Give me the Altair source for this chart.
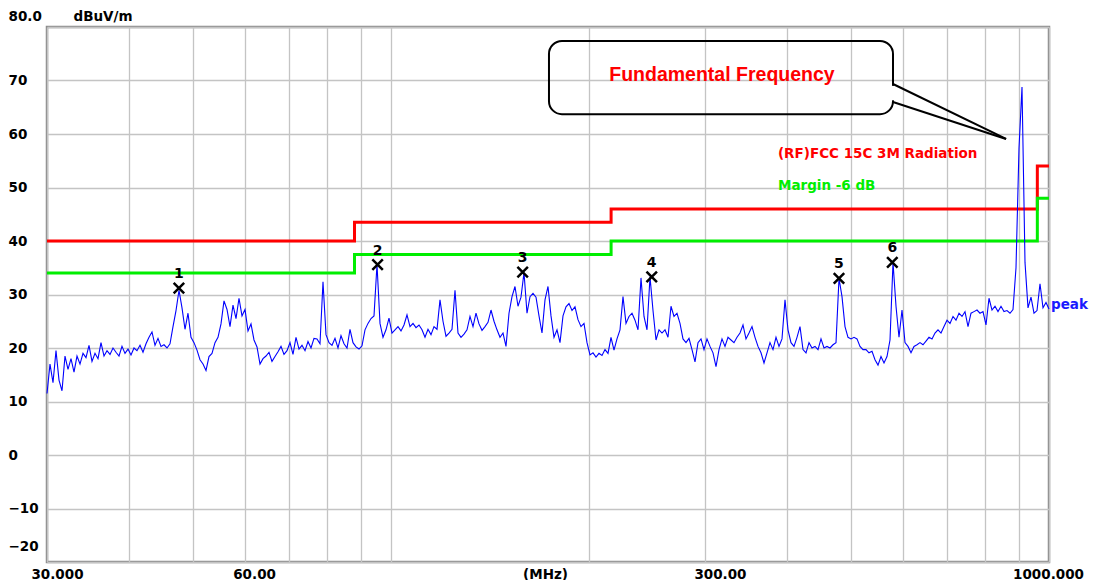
import altair as alt
import numpy as np
import pandas as pd

FONT = "DejaVu Sans"

# ---- measured trace (dBuV/m), one reading per sweep point ----
level = [
    11.5, 17.0, 13.5, 19.5, 14.0, 12.0, 18.5, 16.0, 18.0, 15.5,
    18.5, 17.0, 19.0, 18.2, 20.5, 17.5, 19.0, 18.0, 21.0, 18.5,
    19.5, 18.8, 20.0, 19.2, 18.5, 20.3, 19.0, 19.8, 18.7, 20.0,
    19.5, 20.5, 19.2, 20.8, 22.0, 23.0, 20.5, 21.8, 20.3, 20.6,
    20.0, 20.8, 24.0, 27.0, 30.8, 27.5, 23.5, 26.5, 22.0, 21.0,
    19.6, 17.8, 17.0, 15.8, 18.4, 19.0, 21.0, 22.0, 24.5, 28.8,
    27.2, 24.0, 28.0, 25.5, 29.3, 26.0, 27.2, 23.2, 24.5, 21.5,
    20.2, 17.0, 18.0, 18.5, 19.2, 17.5, 18.4, 19.3, 20.3, 18.8,
    19.5, 21.0, 18.8, 22.0, 19.8, 20.5, 19.5, 21.2, 20.0, 21.8,
    21.7, 20.8, 32.4, 22.5, 21.0, 20.5, 21.8, 20.0, 22.3, 20.8,
    20.0, 23.5, 21.0, 20.2, 19.8, 20.4, 23.4, 24.6, 25.5, 26.0,
    35.6, 24.6, 22.0, 23.4, 25.6, 22.8, 23.4, 24.0, 23.2, 24.3,
    26.2, 24.0, 24.6, 23.8, 24.3, 23.4, 22.0, 23.5, 22.5, 24.0,
    23.5, 29.0, 25.0, 22.2, 22.8, 23.5, 30.8, 22.8, 22.0, 22.6,
    23.4, 25.9, 24.0, 26.5, 24.5, 23.3, 24.0, 24.8, 27.1, 25.0,
    23.4, 22.0, 22.8, 20.3, 26.5, 29.6, 31.5, 27.8, 29.5, 34.1,
    26.5, 29.6, 30.2, 29.5, 26.0, 22.8, 29.0, 31.5, 26.0, 22.0,
    23.4, 21.0, 26.0, 27.7, 28.3, 27.0, 27.7, 25.3, 24.0, 24.6,
    21.0, 18.7, 19.1, 18.3, 19.0, 18.6, 19.7, 19.0, 22.0, 19.6,
    21.7, 23.4, 29.6, 24.6, 25.9, 26.5, 25.2, 23.4, 33.1, 25.9,
    23.4, 33.3, 27.0, 21.5, 23.4, 22.8, 23.4, 22.0, 27.8, 25.9,
    26.5, 24.6, 21.7, 21.0, 21.8, 19.7, 17.4, 21.0, 21.7, 19.7,
    21.7, 20.3, 19.1, 16.5, 19.7, 21.7, 20.3, 22.0, 21.5, 21.0,
    22.0, 22.8, 24.3, 21.7, 22.8, 24.0, 22.0, 20.3, 19.1, 17.2,
    19.1, 21.0, 19.7, 22.0, 20.3, 21.7, 29.0, 23.4, 21.0, 20.3,
    22.0, 24.0, 19.7, 19.1, 21.0, 20.0, 20.3, 19.7, 21.7, 20.0,
    20.3, 20.0, 20.6, 21.0, 33.0, 29.6, 24.0, 22.0, 21.7, 22.0,
    21.7, 20.3, 19.7, 19.7, 19.1, 19.4, 17.8, 16.8, 18.4, 17.2,
    18.4, 21.5, 36.0, 27.8, 22.0, 27.1, 21.0, 20.3, 19.1, 20.3,
    20.6, 21.0, 20.6, 21.3, 22.0, 21.7, 22.8, 23.4, 22.8, 24.0,
    25.2, 24.6, 25.9, 25.2, 26.5, 25.9, 26.8, 24.0, 26.5, 26.8,
    27.1, 26.5, 26.8, 24.3, 29.3, 27.1, 27.8, 26.8, 27.8, 26.8,
    27.0, 26.5, 27.2, 35.0, 57.4, 68.8, 36.0, 27.5, 29.5, 26.5,
    27.0, 32.0, 27.5, 28.5, 27.3,
]
# sweep grid 30 MHz .. 1000 MHz (log spaced)
sweep_freq = np.geomspace(30, 1000, len(level))

# ---- limit lines ----
limit_freq = [30, 88, 216, 960, 1000]
limit_fcc = [40, 43.5, 46, 54, 54]
limit_margin = [34, 37.5, 40, 48, 48]

# ---- markers ----
mk_freq = [47.6, 95.4, 158.5, 249.0, 479.5, 577.9]
mk_level = [31.2, 35.6, 34.2, 33.3, 33.0, 36.0]
mk_label = ["1", "2", "3", "4", "5", "6"]

# ---- axis ticks ----
x_grid = [30, 40, 50, 60, 70, 80, 90, 100, 200, 300, 400, 500, 600, 700, 800, 900, 1000]
y_grid = list(range(-20, 81, 10))

# ---- annotation anchors (data units) ----
callout_box = {"f": 173.8, "f2": 579.3, "v": 77.4, "v2": 63.7}
callout_tail = {"f": [579.3, 579.3], "v": [69.35, 65.98], "f2": [860.5, 860.5], "v2": [59.07, 59.07]}
callout_gap = {"f": 579.3, "v": 69.0, "v2": 66.3}
callout_text = {"f": 318.4, "v": 71.0, "t": "Fundamental Frequency"}
legend_text = ["(RF)FCC 15C 3M Radiation", "Margin -6 dB"]
legend_f = [387.3, 387.3]
legend_v = [56.3, 50.3]
legend_col = ["#ff0000", "#00ee00"]
trace_label = {"f": 1000, "v": 28.0, "t": "peak"}

RED = "#ff0000"
GREEN = "#00ee00"
BLUE = "#0000ff"

x_axis = alt.Axis(
    values=x_grid, grid=True, gridColor="#c4c4c4", gridWidth=1.3,
    domain=False, ticks=False, tickSize=0,
    labelExpr="datum.value == 30 ? '30.000' : datum.value == 60 ? '60.00' : datum.value == 300 ? '300.00' : datum.value == 1000 ? '1000.000' : ''",
    labelFont=FONT, labelFontWeight="bold", labelFontSize=13.5, labelColor="black",
    labelPadding=5, labelBaseline="top", labelOverlap=False, labelFlush=False,
    labelOffset={"condition": [{"test": "datum.value == 30", "value": 10},
                               {"test": "datum.value == 300", "value": 15},
                               {"test": "datum.value == 1000", "value": -1}],
                 "value": 9},
    title="(MHz)", titleX=498, titleY=5, titleAlign="center", titleBaseline="top",
    titleFont=FONT, titleFontWeight="bold", titleFontSize=13.5, titleColor="black",
)
y_axis = alt.Axis(
    values=y_grid, grid=True, gridColor="#c4c4c4", gridWidth=1.3,
    domain=False, ticks=False, tickSize=0,
    labelAlign="left", labelPadding=39, labelBaseline="middle",
    labelExpr="datum.value == 80 ? '80.0' : datum.label",
    labelFont=FONT, labelFontWeight="bold", labelFontSize=13.5, labelColor="black",
    labelOffset={"condition": [{"test": "datum.value == 80", "value": -11},
                               {"test": "datum.value == -20", "value": -16}],
                 "value": 0},
    labelOverlap=False, labelFlush=False,
    title="dBuV/m", titleAngle=0, titleX=26, titleY=-11, titleAlign="left",
    titleBaseline="middle", titleFont=FONT, titleFontWeight="bold",
    titleFontSize=13.5, titleColor="black",
)

xs = alt.Scale(type="log", domain=[30, 1000], nice=False)
ys = alt.Scale(domain=[-20, 80], nice=False, zero=False)


def X(field="f"):
    return alt.X(f"{field}:Q", scale=xs, axis=x_axis)


def Y(field="v"):
    return alt.Y(f"{field}:Q", scale=ys, axis=y_axis)


trace_df = pd.DataFrame({"f": sweep_freq, "v": level})
lim_df = pd.DataFrame({"f": limit_freq, "fcc": limit_fcc, "mar": limit_margin})
mk_df = pd.DataFrame({"f": mk_freq, "v": mk_level, "t": mk_label})

fcc = alt.Chart(lim_df).mark_line(color=RED, strokeWidth=3, interpolate="step-after").encode(
    x=X(), y=alt.Y("fcc:Q", scale=ys, axis=y_axis))
margin = alt.Chart(lim_df).mark_line(color=GREEN, strokeWidth=3, interpolate="step-after").encode(
    x=X(), y=alt.Y("mar:Q", scale=ys, axis=y_axis))
trace = alt.Chart(trace_df).mark_line(color=BLUE, strokeWidth=1.1).encode(x=X(), y=Y())

markers = alt.Chart(mk_df).mark_point(
    shape="M-1,-1L1,1M-1,1L1,-1", size=110, strokeWidth=2.5, color="black",
    filled=False, opacity=1).encode(x=X(), y=Y())
mk_text = alt.Chart(mk_df).mark_text(
    font=FONT, fontWeight="bold", fontSize=14, color="black", dy=-14,
    baseline="middle").encode(x=X(), y=Y(), text="t:N")

leg_df = pd.DataFrame({"f": legend_f, "v": legend_v, "t": legend_text, "c": legend_col})
legend = alt.Chart(leg_df).mark_text(
    font=FONT, fontWeight="bold", fontSize=13.5, align="left", baseline="middle").encode(
    x=X(), y=Y(), text="t:N", color=alt.Color("c:N", scale=None))

peak_df = pd.DataFrame([trace_label])
peak_txt = alt.Chart(peak_df).mark_text(
    font=FONT, fontWeight="bold", fontSize=13.5, align="left", baseline="middle",
    color="#1a1aff", dx=2).encode(x=X(), y=Y(), text="t:N")

box_df = pd.DataFrame([callout_box])
box = alt.Chart(box_df).mark_rect(
    cornerRadius=13, fillOpacity=0, stroke="black", strokeWidth=2).encode(
    x=X(), x2="f2:Q", y=Y(), y2="v2:Q")
gap_df = pd.DataFrame([callout_gap])
gap = alt.Chart(gap_df).mark_rule(color="white", strokeWidth=5).encode(
    x=X(), y=Y(), y2="v2:Q")
tail_df = pd.DataFrame(callout_tail)
tail = alt.Chart(tail_df).mark_rule(color="black", strokeWidth=2).encode(
    x=X(), y=Y(), x2="f2:Q", y2="v2:Q")
ctext_df = pd.DataFrame([callout_text])
ctext = alt.Chart(ctext_df).mark_text(
    font="Liberation Sans", fontWeight="bold", fontSize=19.5, color=RED,
    align="center", baseline="middle").encode(x=X(), y=Y(), text="t:N")

chart = alt.layer(
    fcc, margin, trace, markers, mk_text, legend, peak_txt, box, gap, tail, ctext
).properties(
    width=1002, height=535,
    autosize=alt.AutoSizeParams(type="none"),
    padding={"left": 39, "top": 19, "right": 40, "bottom": 18},
).configure_view(
    stroke="#8c8c8c", strokeWidth=2.5
)

chart.save("out.html", embed_options={"renderer": "svg", "actions": False})
